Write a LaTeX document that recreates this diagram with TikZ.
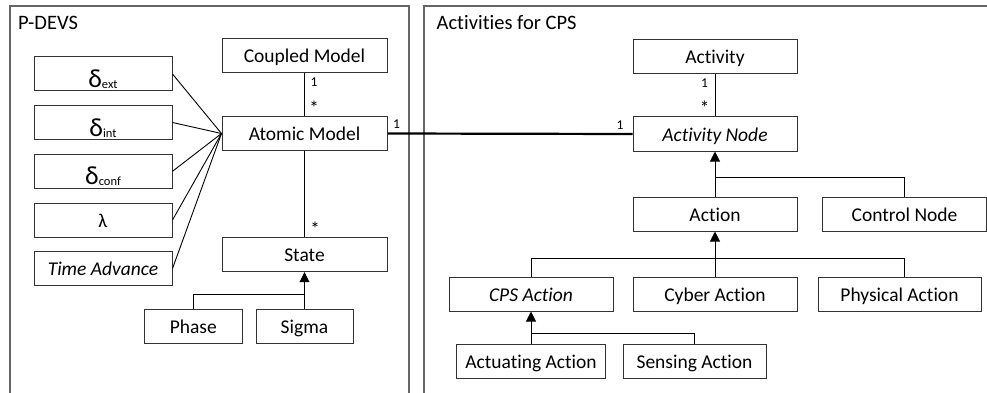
\documentclass[tikz,border=0pt]{standalone}
\usepackage{fontspec}
\setmainfont{Carlito}[RawFeature=-liga]
\usetikzlibrary{arrows.meta}
\newcommand\dsym[1]{{\fontsize{26}{26}\selectfont δ}\raisebox{-1pt}{\fontsize{12.5}{13}\selectfont #1}}
\begin{document}
\begin{tikzpicture}[x=1pt,y=-1pt,
  box/.style={draw=black!80, line width=1pt, minimum height=34pt, inner sep=0pt,
    text height=14pt, text depth=0pt, font=\fontsize{19.5}{23}\selectfont},
  dbox/.style={box, minimum width=138pt, text height=27.2pt},
  conn/.style={draw=black, line width=0.9pt},
  gen/.style={conn, -{Triangle[width=10pt,length=10pt]}},
  assoc/.style={draw=black, line width=2.2pt},
  mult/.style={inner sep=0pt, anchor=base, font=\fontsize{13.5}{16}\selectfont},
  star/.style={inner sep=0pt, anchor=base, font=\fontsize{19}{20}\selectfont},
  frame/.style={draw=black!60, line width=1.6pt},
  title/.style={inner sep=0pt, anchor=base west, font=\fontsize{20.5}{24}\selectfont}]
\useasboundingbox (0,0) rectangle (987,393);
% frames
\draw[frame] (10,394) -- (10,6) -- (409,6) -- (409,394);
\draw[frame] (424,394) -- (424,6) -- (988,6);
\node[title] (tl) at (18,29.5) {P-DEVS};
\node[title] (tr) at (436.5,29.5) {Activities for CPS};
% left part
\node[dbox] (dext) at (103,74) {\dsym{ext}};
\node[dbox] (dint) at (103,122.5) {\dsym{int}};
\node[dbox] (dconf) at (103,171.3) {\dsym{conf}};
\node[box, minimum width=138pt] (lam) at (103,220) {λ};
\node[box, minimum width=138pt] (ta) at (103,268.5) {\itshape Time Advance};
\node[box, minimum width=165pt] (cm) at (304.5,56) {Coupled Model};
\node[box, minimum width=165pt] (am) at (304.5,133.5) {Atomic Model};
\node[box, minimum width=165pt] (st) at (304.5,254.7) {State};
\node[box, minimum width=98pt] (ph) at (193.3,326.5) {Phase};
\node[box, minimum width=97pt] (sg) at (304.5,326.5) {Sigma};
% right part
\node[box, minimum width=164pt] (act) at (715,56.5) {Activity};
\node[box, minimum width=164pt] (an) at (715,134) {\itshape Activity Node};
\node[box, minimum width=164pt] (ac) at (715,214) {Action};
\node[box, minimum width=164pt] (cn) at (904.5,214) {Control Node};
\node[box, minimum width=164pt] (cps) at (531,294) {\itshape CPS Action};
\node[box, minimum width=164pt] (cy) at (715,294) {Cyber Action};
\node[box, minimum width=163pt] (pa) at (899.5,294) {Physical Action};
\node[box, minimum width=149pt] (aa) at (531,361) {Actuating Action};
\node[box, minimum width=143pt] (sa) at (694.5,361) {Sensing Action};
% junctions
\coordinate (j1) at (304.5,294.3);
\coordinate (j2) at (715,177);
\coordinate (j3) at (715,258);
\coordinate (j4) at (531,333);
% left connectors
\foreach \n in {dext,dint,dconf,lam,ta} \draw[conn] (\n.east) -- (am.west);
\draw[conn] (cm.south) -- (am.north);
\draw[conn] (am.south) -- (st.north);
\draw[gen] (sg.north) -- (st.south);
\draw[conn] (ph.north) |- (j1);
% association
\draw[assoc] (am.east) -- (an.west);
% right connectors
\draw[conn] (act.south) -- (an.north);
\draw[gen] (ac.north) -- (an.south);
\draw[conn] (cn.north) |- (j2);
\draw[gen] (cy.north) -- (ac.south);
\draw[conn] (cps.north) |- (j3);
\draw[conn] (cn.south |- pa.north) |- (j3);
\draw[gen] (aa.north) -- (cps.south);
\draw[conn] (sa.north) |- (j4);
% multiplicities
\node[mult] (m1) at (314,86.5) {1};
\node[star] (m2) at (314,115) {*};
\node[star] (m3) at (315,235) {*};
\node[mult] (m4) at (396.5,128.5) {1};
\node[mult] (m5) at (620,129) {1};
\node[mult] (m6) at (704.5,88) {1};
\node[star] (m7) at (704.5,115) {*};
\end{tikzpicture}
\end{document}
